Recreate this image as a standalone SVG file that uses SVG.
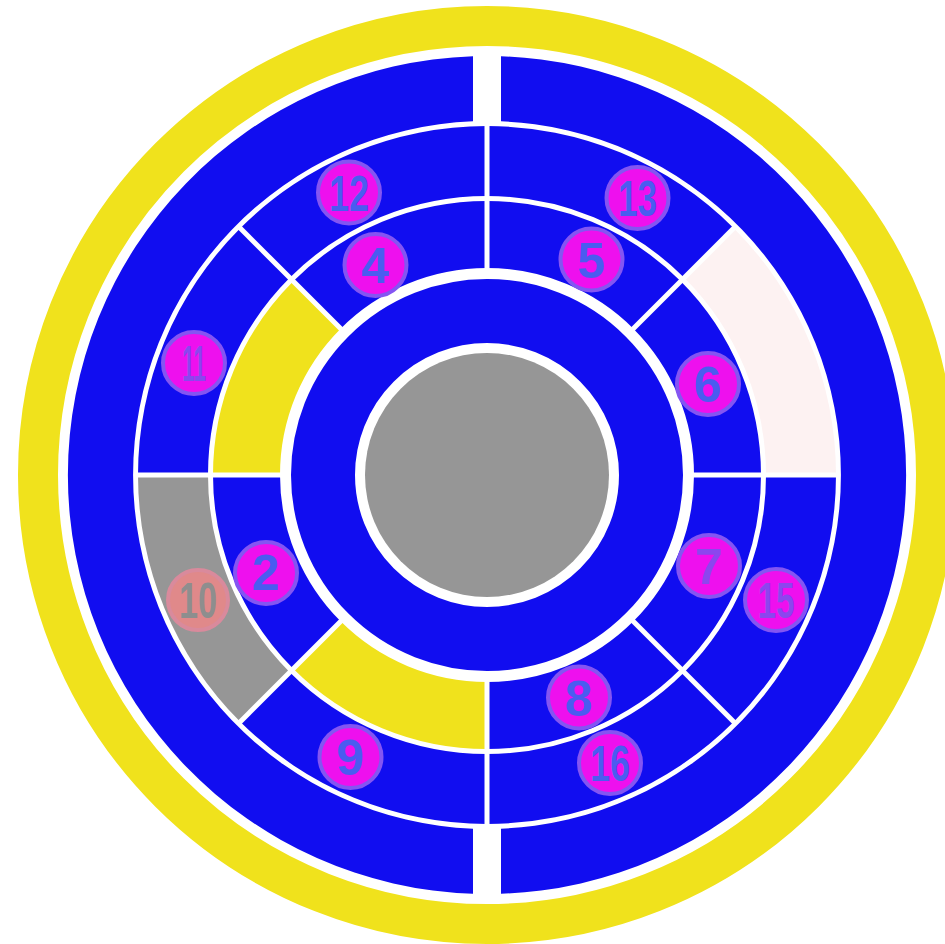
<svg xmlns="http://www.w3.org/2000/svg" width="945" height="944" viewBox="0 0 945 944">
<style>
.blue{fill:#110DF0}
.yel{fill:#F0E21C}
.grey{fill:#969696}
.pink{fill:#FDF2F2}
.div{stroke:#FFFFFF;stroke-width:5;fill:none}
.badge{fill:#EE10EE;stroke:#8455F2;stroke-width:4}
.badge10{fill:#E0898A;stroke:#D98A9C;stroke-width:4}
.num{font-family:"Liberation Sans","DejaVu Sans",sans-serif;font-weight:bold;font-size:50px;text-anchor:middle;fill:#4A5CF0}
.purp{fill:#8C46EE}
.gnum{fill:#8E8E8E}
</style>
<rect x="0" y="0" width="945" height="944" fill="#FFFFFF"/>
<g id="rim">
<circle cx="487" cy="475" r="449" fill="none" stroke="#F0E21C" stroke-width="40"/>
</g>
<g id="outer-left"><path class="blue" d="M 473 56.23 A 419 419 0 0 0 473 893.77 L 473 828.72 A 354 354 0 0 1 473 121.28 Z"/></g>
<g id="outer-right"><path class="blue" d="M 501 56.23 A 419 419 0 0 1 501 893.77 L 501 828.72 A 354 354 0 0 0 501 121.28 Z"/></g>
<g id="inner-ring"><circle cx="487" cy="475" r="164" fill="none" stroke="#110DF0" stroke-width="64"/></g>
<g id="hub"><circle class="grey" cx="487" cy="475" r="122"/></g>

<g id="seg-pink"><path class="pink" d="M 836 475 A 349 349 0 0 0 733.78 228.22 L 684.28 277.72 A 279 279 0 0 1 766 475 Z"/></g>
<g id="seg-13"><path class="blue" d="M 733.78 228.22 A 349 349 0 0 0 487 126 L 487 196 A 279 279 0 0 1 684.28 277.72 Z"/></g>
<g id="seg-12"><path class="blue" d="M 487 126 A 349 349 0 0 0 240.22 228.22 L 289.72 277.72 A 279 279 0 0 1 487 196 Z"/></g>
<g id="seg-11"><path class="blue" d="M 240.22 228.22 A 349 349 0 0 0 138 475 L 208 475 A 279 279 0 0 1 289.72 277.72 Z"/></g>
<g id="seg-10"><path class="grey" d="M 138 475 A 349 349 0 0 0 240.22 721.78 L 289.72 672.28 A 279 279 0 0 1 208 475 Z"/></g>
<g id="seg-9"><path class="blue" d="M 240.22 721.78 A 349 349 0 0 0 487 824 L 487 754 A 279 279 0 0 1 289.72 672.28 Z"/></g>
<g id="seg-16"><path class="blue" d="M 487 824 A 349 349 0 0 0 733.78 721.78 L 684.28 672.28 A 279 279 0 0 1 487 754 Z"/></g>
<g id="seg-15"><path class="blue" d="M 733.78 721.78 A 349 349 0 0 0 836 475 L 766 475 A 279 279 0 0 1 684.28 672.28 Z"/></g>

<g id="seg-6"><path class="blue" d="M 761 475 A 274 274 0 0 0 680.75 281.25 L 633.37 328.63 A 207 207 0 0 1 694 475 Z"/></g>
<g id="seg-5"><path class="blue" d="M 680.75 281.25 A 274 274 0 0 0 487 201 L 487 268 A 207 207 0 0 1 633.37 328.63 Z"/></g>
<g id="seg-4"><path class="blue" d="M 487 201 A 274 274 0 0 0 293.25 281.25 L 340.63 328.63 A 207 207 0 0 1 487 268 Z"/></g>
<g id="seg-yellow-upper"><path class="yel" d="M 293.25 281.25 A 274 274 0 0 0 213 475 L 280 475 A 207 207 0 0 1 340.63 328.63 Z"/></g>
<g id="seg-2"><path class="blue" d="M 213 475 A 274 274 0 0 0 293.25 668.75 L 340.63 621.37 A 207 207 0 0 1 280 475 Z"/></g>
<g id="seg-yellow-lower"><path class="yel" d="M 293.25 668.75 A 274 274 0 0 0 487 749 L 487 682 A 207 207 0 0 1 340.63 621.37 Z"/></g>
<g id="seg-8"><path class="blue" d="M 487 749 A 274 274 0 0 0 680.75 668.75 L 633.37 621.37 A 207 207 0 0 1 487 682 Z"/></g>
<g id="seg-7"><path class="blue" d="M 680.75 668.75 A 274 274 0 0 0 761 475 L 694 475 A 207 207 0 0 1 633.37 621.37 Z"/></g>

<g id="connectors">
<line class="div" x1="692" y1="475" x2="839" y2="475"/>
<line class="div" x1="631.96" y1="330.04" x2="735.9" y2="226.1"/>
<line class="div" x1="487" y1="270" x2="487" y2="123"/>
<line class="div" x1="342.04" y1="330.04" x2="238.1" y2="226.1"/>
<line class="div" x1="282" y1="475" x2="135" y2="475"/>
<line class="div" x1="342.04" y1="619.96" x2="238.1" y2="723.9"/>
<line class="div" x1="487" y1="680" x2="487" y2="827"/>
<line class="div" x1="631.96" y1="619.96" x2="735.9" y2="723.9"/>
</g>

<g id="label-12"><circle class="badge" cx="349" cy="192.5" r="31"/><text class="num" x="349" y="210.5" textLength="40" lengthAdjust="spacingAndGlyphs">12</text></g>
<g id="label-4"><circle class="badge" cx="375.5" cy="265" r="31"/><text class="num" x="375.5" y="283">4</text></g>
<g id="label-13"><circle class="badge" cx="637.5" cy="198" r="31"/><text class="num" x="637.5" y="216" textLength="39" lengthAdjust="spacingAndGlyphs">13</text></g>
<g id="label-5"><circle class="badge" cx="591.5" cy="259.5" r="31"/><text class="num" x="591.5" y="277.5">5</text></g>
<g id="label-11"><circle class="badge" cx="194" cy="363" r="31"/><text class="num purp" x="194" y="381" textLength="24" lengthAdjust="spacingAndGlyphs">11</text></g>
<g id="label-6"><circle class="badge" cx="708" cy="384" r="31"/><text class="num" x="708" y="402">6</text></g>
<g id="label-2"><circle class="badge" cx="266" cy="573" r="31"/><text class="num" x="266" y="590">2</text></g>
<g id="label-10"><circle class="badge10" cx="198" cy="600" r="30"/><text class="num gnum" x="198" y="618" textLength="38" lengthAdjust="spacingAndGlyphs">10</text></g>
<g id="label-7"><circle class="badge" cx="709" cy="566" r="31"/><text class="num purp" x="709" y="584">7</text></g>
<g id="label-15"><circle class="badge" cx="776" cy="600" r="31"/><text class="num purp" x="776" y="618" textLength="37" lengthAdjust="spacingAndGlyphs">15</text></g>
<g id="label-9"><circle class="badge" cx="350.5" cy="757" r="31"/><text class="num" x="350.5" y="775">9</text></g>
<g id="label-8"><circle class="badge" cx="579" cy="697.5" r="31"/><text class="num" x="579" y="715.5">8</text></g>
<g id="label-16"><circle class="badge" cx="610" cy="763" r="31"/><text class="num" x="610" y="781" textLength="40" lengthAdjust="spacingAndGlyphs">16</text></g>
</svg>
